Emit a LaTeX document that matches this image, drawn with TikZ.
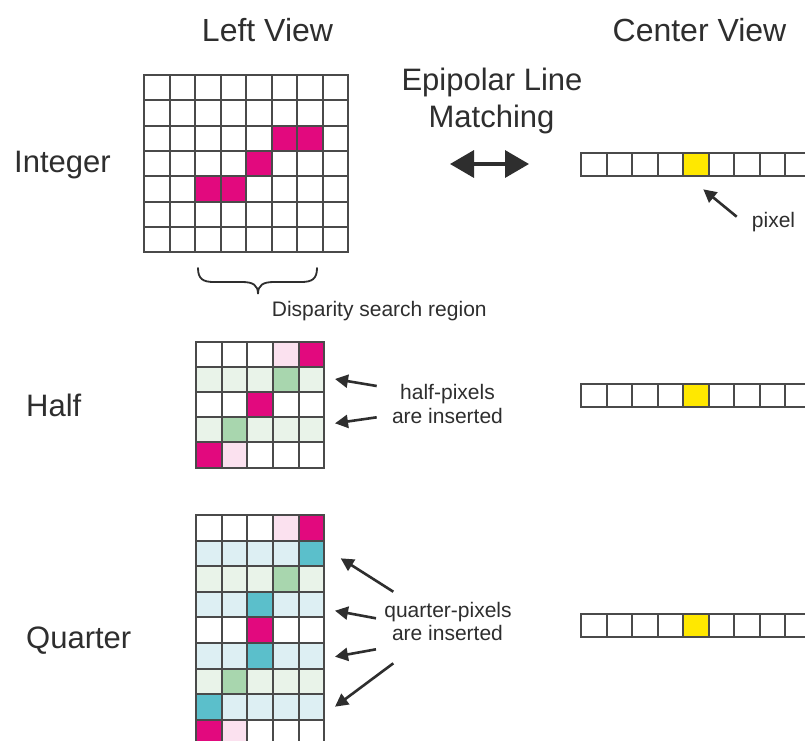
\documentclass[tikz,border=0pt]{standalone}
\usepackage{fontspec}
\setmainfont{Liberation Sans}
\usetikzlibrary{arrows.meta}
\definecolor{ink}{HTML}{2E2E2E}
\definecolor{gridc}{HTML}{4A4A4A}
\definecolor{cW}{HTML}{FFFFFF}
\definecolor{cM}{HTML}{E2097E}
\definecolor{cP}{HTML}{FBE1EF}
\definecolor{cG}{HTML}{E9F3E9}
\definecolor{cD}{HTML}{A8D6AE}
\definecolor{cB}{HTML}{DDEFF3}
\definecolor{cT}{HTML}{5BBFCB}
\definecolor{cY}{HTML}{FFE800}
\newcommand{\pixgrid}[5]{%
  \foreach \rowlist [count=\r from 0] in {#5} {
    \foreach \cc [count=\k from 0] in \rowlist {
      \fill[c\cc] ({round(#1+\k*#3)},{round(#2+\r*#4)}) rectangle ({round(#1+(\k+1)*#3)},{round(#2+(\r+1)*#4)});
    }
  }%
  \foreach \rowlist [count=\r from 0] in {#5} {
    \foreach \cc [count=\k from 0] in \rowlist {
      \draw[gridc, line width=2pt] ({round(#1+\k*#3)},{round(#2+\r*#4)}) rectangle ({round(#1+(\k+1)*#3)},{round(#2+(\r+1)*#4)});
    }
  }%
}
\begin{document}
\begin{tikzpicture}[x=1pt,y=-1pt,
  hdr/.style={inner sep=0pt, text=ink, font=\fontsize{32}{38}\selectfont},
  lbl/.style={inner sep=0pt, text=ink, font=\fontsize{31}{37}\selectfont},
  small/.style={inner sep=0pt, text=ink, font=\fontsize{21}{24}\selectfont},
  ptr/.style={draw=ink, line width=2.6pt, -{Triangle[length=13pt,width=13pt]}},
  dbl/.style={draw=ink, line width=3.5pt, {Triangle[length=24pt,width=27pt]}-{Triangle[length=24pt,width=27pt]}},
  bracec/.style={draw=ink, line width=1.8pt, line cap=round}
]
\useasboundingbox (0,0) rectangle (805,740);
\fill[white] (0,0) rectangle (805,740);
\begin{scope}
\clip (0,0) rectangle (805,740);
% integer grid
\pixgrid{144}{75}{25.5}{25.3}{{W,W,W,W,W,W,W,W},{W,W,W,W,W,W,W,W},{W,W,W,W,W,M,M,W},{W,W,W,W,M,W,W,W},{W,W,M,M,W,W,W,W},{W,W,W,W,W,W,W,W},{W,W,W,W,W,W,W,W}}
% half grid
\pixgrid{196}{342}{25.7}{25.1}{{W,W,W,P,M},{G,G,G,D,G},{W,W,M,W,W},{G,D,G,G,G},{M,P,W,W,W}}
% quarter grid
\pixgrid{196}{515}{25.7}{25.6}{{W,W,W,P,M},{B,B,B,B,T},{G,G,G,D,G},{B,B,T,B,B},{W,W,M,W,W},{B,B,T,B,B},{G,D,G,G,G},{T,B,B,B,B},{M,P,W,W,W}}
% center view strips
\pixgrid{581}{153}{25.5}{23.3}{{W,W,W,W,Y,W,W,W,W,W}}
\pixgrid{581}{384}{25.5}{23.3}{{W,W,W,W,Y,W,W,W,W,W}}
\pixgrid{581}{614}{25.5}{23.3}{{W,W,W,W,Y,W,W,W,W,W}}
\end{scope}

% headers and labels
\node[hdr, anchor=base] (leftview) at (267.5,41) {Left View};
\node[hdr, anchor=base] (centerview) at (699.5,41) {Center View};
\node[lbl, anchor=base] (epi1) at (492,90) {Epipolar Line};
\node[lbl, anchor=base] (epi2) at (491.5,127) {Matching};
\node[lbl, anchor=base west] (integer) at (14,172) {Integer};
\node[lbl, anchor=base west] (half) at (26,416) {Half};
\node[lbl, anchor=base west] (quarter) at (26,648) {Quarter};

\node[small, anchor=base west] (disp) at (271.7,316) {Disparity search region};
\node[small, anchor=base west] (pixel) at (751.7,227) {pixel};
\node[small, anchor=base] (halfA) at (447.5,399.5) {half-pixels};
\node[small, anchor=base] (halfB) at (447.5,423.5) {are inserted};
\node[small, anchor=base] (quarA) at (448,617.5) {quarter-pixels};
\node[small, anchor=base] (quarB) at (447.5,640) {are inserted};

% double arrow
\coordinate (dblL) at (450,164);
\coordinate (dblR) at (529,164);
\draw[dbl] (dblL) -- (dblR);

% brace
\draw[bracec] (198,268) .. controls (198,279) and (203,282) .. (214,282)
  -- (242,282) .. controls (253,282) and (258,285) .. (258,294)
  .. controls (258,285) and (263,282) .. (274,282)
  -- (301,282) .. controls (312,282) and (317,279) .. (317,268);

% pixel arrow
\coordinate (pixS) at (736.7,216.7);
\coordinate (pixT) at (703.3,189.3);
\draw[ptr] (pixS) -- (pixT);

% half arrows
\coordinate (h1s) at (376.7,386);
\coordinate (h1t) at (335,379);
\coordinate (h2s) at (376.7,417.3);
\coordinate (h2t) at (335,423.3);
\draw[ptr] (h1s) -- (h1t);
\draw[ptr] (h2s) -- (h2t);

% quarter arrows
\coordinate (q1s) at (393.3,591.7);
\coordinate (q1t) at (340.7,558.3);
\coordinate (q2s) at (376,618.3);
\coordinate (q2t) at (335,610.7);
\coordinate (q3s) at (376,649.3);
\coordinate (q3t) at (335,656.7);
\coordinate (q4s) at (393.3,663.3);
\coordinate (q4t) at (335,706.7);
\draw[ptr] (q1s) -- (q1t);
\draw[ptr] (q2s) -- (q2t);
\draw[ptr] (q3s) -- (q3t);
\draw[ptr] (q4s) -- (q4t);
\end{tikzpicture}
\end{document}
